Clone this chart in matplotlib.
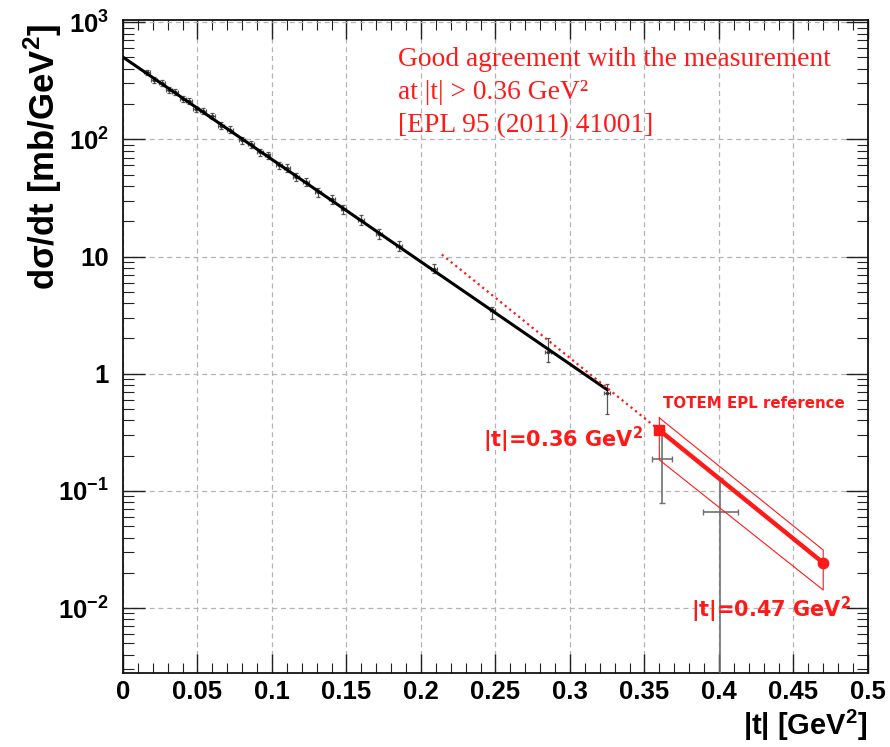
import matplotlib
matplotlib.use("Agg")
import matplotlib.pyplot as plt
from matplotlib.ticker import FixedLocator, MultipleLocator, LogLocator, NullFormatter

plt.rcParams['mathtext.fontset'] = 'custom'
plt.rcParams['mathtext.rm'] = 'Liberation Sans:bold'
plt.rcParams['mathtext.bf'] = 'Liberation Sans:bold'
plt.rcParams['mathtext.sf'] = 'DejaVu Sans:bold'

# measured dsigma/dt points
t_meas = [0.016, 0.021, 0.026, 0.031, 0.035, 0.040, 0.044, 0.049, 0.054, 0.060,
          0.066, 0.072, 0.080, 0.086, 0.092, 0.097, 0.105, 0.110, 0.116, 0.123,
          0.131, 0.140, 0.148, 0.160, 0.172, 0.185, 0.209, 0.248, 0.285, 0.325]
dsdt_meas = [372, 322, 305, 262, 255, 222, 212, 183, 174, 158,
             131, 121, 98, 91, 77.5, 73, 60, 57, 48, 43.5,
             35.5, 30.8, 25.2, 20.6, 15.6, 12.4, 7.9, 3.5, 1.54, 0.69]
dsdt_err_lo = [20, 18, 17, 15, 15, 13, 13, 11, 11, 10,
               8.5, 8, 6.5, 6, 5.5, 5, 4.5, 4.3, 3.8, 3.5,
               3.0, 2.6, 2.2, 1.9, 1.5, 1.2, 0.7, 0.57, 0.27, 0.24]
dsdt_err_hi = [20, 18, 17, 15, 15, 13, 13, 11, 11, 10,
               8.5, 8, 6.5, 6, 5.5, 5, 4.5, 4.3, 3.8, 3.5,
               3.0, 2.6, 2.2, 1.9, 1.5, 1.2, 0.7, 0.2, 0.46, 0.13]
t_meas_err = [0.002] * len(t_meas)

# points beyond the fit range
t_tail = [0.362, 0.401]
dsdt_tail = [0.187, 0.066]
tail_err_lo = [0.108, 0.0655]
tail_err_hi = [0.143, 0.063]
t_tail_err = [0.0067, 0.0115]

# exponential fit (straight on a log axis)
fit_t = [0.0, 0.325]
fit_y = [503, 0.73]

# TOTEM EPL reference and its band
epl_t = [0.36, 0.47]
epl_y = [0.33, 0.0243]
epl_band_hi = [0.42, 0.0313]
epl_band_lo = [0.184, 0.01425]
epl_extrap_t = [0.214, 0.36]
epl_extrap_y = [10.4, 0.33]

ytick_vals = [1e-2, 1e-1, 1, 10, 1e2, 1e3]
ytick_labels = [r'$\mathbf{10^{-2}}$', r'$\mathbf{10^{-1}}$', '1', '10',
                r'$\mathbf{10^{2}}$', r'$\mathbf{10^{3}}$']
xtick_vals = [0, 0.05, 0.1, 0.15, 0.2, 0.25, 0.3, 0.35, 0.4, 0.45, 0.5]
xtick_labels = ['0', '0.05', '0.1', '0.15', '0.2', '0.25', '0.3', '0.35', '0.4', '0.45', '0.5']

RED = '#ff1a1a'
tickfont = dict(family=['Liberation Sans', 'DejaVu Sans'], weight='bold', size=18.5)

fig = plt.figure(figsize=(8.9, 7.47), dpi=100)
ax = fig.add_axes([0.1382, 0.099, 0.837, 0.874])
ax.set_yscale('log')
ax.set_xlim(0, 0.5)
ax.set_ylim(0.00279, 1040)

ax.grid(True, which='major', color='#b4b4b4', linestyle=(0, (4, 3)), linewidth=0.9)
ax.set_axisbelow(True)

# measured points
ax.errorbar(t_meas, dsdt_meas, yerr=[dsdt_err_lo, dsdt_err_hi], xerr=t_meas_err,
            fmt='o', ms=1.5, color='#333333', ecolor='#555555', elinewidth=0.9,
            capsize=1.5, capthick=0.9, zorder=3)
ax.errorbar(t_tail, dsdt_tail, yerr=[tail_err_lo, tail_err_hi], xerr=t_tail_err,
            fmt='none', ecolor='#707070', elinewidth=1.2, capsize=2, capthick=1.0, zorder=3)

# fit
ax.plot(fit_t, fit_y, color='black', lw=2.2, zorder=4)

# reference extrapolation, line and band
ax.plot(epl_extrap_t, epl_extrap_y, color=RED, lw=1.6, linestyle=(0, (1, 1.6)), zorder=4)
band_t = [epl_t[0], epl_t[1], epl_t[1], epl_t[0], epl_t[0]]
band_y = [epl_band_hi[0], epl_band_hi[1], epl_band_lo[1], epl_band_lo[0], epl_band_hi[0]]
ax.plot(band_t, band_y, color=RED, lw=0.8, zorder=4)
ax.plot(epl_t, epl_y, color=RED, lw=3.2, zorder=5)
ax.plot(epl_t[:1], epl_y[:1], 's', color=RED, ms=7, zorder=6)
ax.plot(epl_t[1:], epl_y[1:], 'o', color=RED, ms=7.5, zorder=6)

# annotations
serif = dict(family=['Liberation Serif', 'DejaVu Serif'], size=19.8, color=RED)
ax.text(0.1846, 421, 'Good agreement with the measurement', va='baseline', **serif)
ax.text(0.1846, 220, 'at |t| > 0.36 GeV\u00b2', va='baseline', **serif)
ax.text(0.1846, 115, '[EPL 95 (2011) 41001]', va='baseline', **serif)

ax.text(0.3624, 0.512, 'TOTEM EPL reference', va='baseline', color=RED,
        family='DejaVu Sans', weight='bold', size=10.8)
ax.text(0.2416, 0.238, r'|t|=0.36 GeV$^{\mathsf{2}}$', va='baseline', color=RED,
        family='DejaVu Sans', weight='bold', size=15)
ax.text(0.3815, 0.0083, r'|t|=0.47 GeV$^{\mathsf{2}}$', va='baseline', color=RED,
        family='DejaVu Sans', weight='bold', size=15)

# axes styling
ax.yaxis.set_major_locator(FixedLocator(ytick_vals))
ax.yaxis.set_minor_locator(LogLocator(base=10, subs=range(2, 10), numticks=20))
ax.yaxis.set_minor_formatter(NullFormatter())
ax.set_yticklabels(ytick_labels, fontdict=tickfont)
ax.xaxis.set_major_locator(FixedLocator(xtick_vals))
ax.xaxis.set_minor_locator(MultipleLocator(0.01))
ax.set_xticklabels(xtick_labels, fontdict=tickfont)

ax.tick_params(which='both', direction='in', top=True, right=True, color='#222222')
ax.tick_params(axis='y', which='major', length=16, width=1.0, pad=10)
ax.tick_params(axis='y', which='minor', length=8, width=0.8)
ax.tick_params(axis='x', which='major', length=14, width=1.0, pad=5)
ax.tick_params(axis='x', which='minor', length=7, width=0.8)
for s in ax.spines.values():
    s.set_linewidth(1.3)
    s.set_color('#111111')

ax.set_ylabel(r'd$\mathbf{\sigma}$/dt [mb/GeV$^{\mathbf{2}}$]', loc='top',
              family=['Liberation Sans', 'DejaVu Sans'], weight='bold', size=25)
ax.yaxis.set_label_coords(-0.107, 0.995)
ax.yaxis.label.set_va('center')
ax.set_xlabel(r'|t| [GeV$^{\mathbf{2}}$]', loc='right',
              family=['Liberation Sans', 'DejaVu Sans'], weight='bold', size=21)
ax.xaxis.set_label_coords(1.0, -0.08)
ax.xaxis.label.set_va('center')

fig.savefig('out.png', dpi=100)
